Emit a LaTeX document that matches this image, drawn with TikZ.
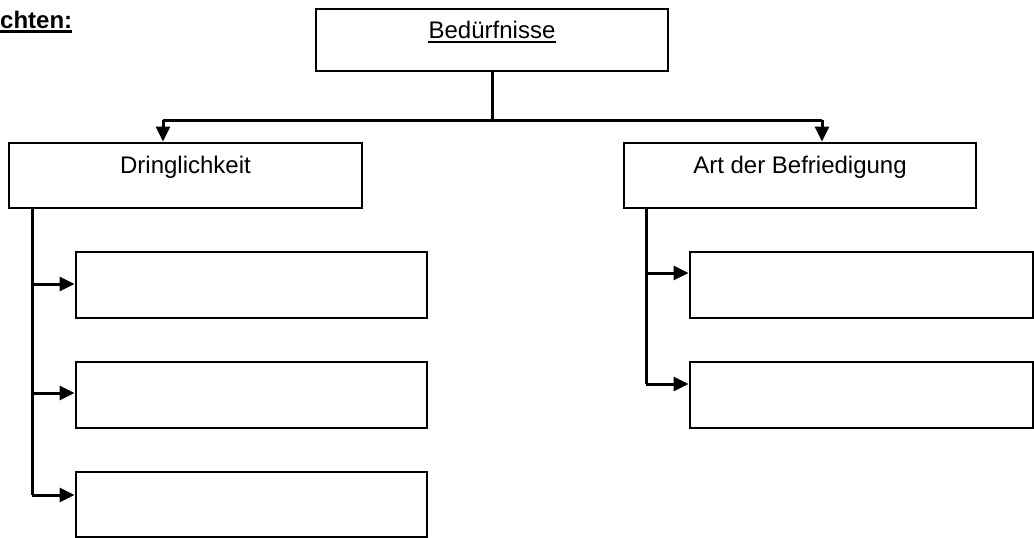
\documentclass[tikz,border=0pt]{standalone}
\usepackage{fontspec}
\setmainfont{Liberation Sans}
\usetikzlibrary{arrows.meta,calc}
\tikzset{
  box/.style={draw=black, line width=2.9pt, rectangle, inner sep=0pt},
  conn/.style={draw=black, line width=3pt},
  arr/.style={conn, -{Triangle[length=15pt,width=14pt]}},
  lbl/.style={font=\fontsize{24}{28}\selectfont, inner sep=0pt, anchor=base},
  hd/.style={font=\fontsize{24}{28}\selectfont\bfseries, inner sep=0pt, anchor=base west}
}
\begin{document}
\begin{tikzpicture}[x=1pt,y=-1pt]
\useasboundingbox (0,0) rectangle (1034,538);
% heading fragment
\node[hd] (head) at (0,28) {chten:};
\draw[line width=3.8pt] ([yshift=-3.5pt]head.base west) -- ([yshift=-3.5pt]head.base east);
% boxes
\node[box, minimum width=352pt, minimum height=62pt] (top) at (492,40) {};
\node[box, minimum width=353pt, minimum height=65pt] (dring) at (185.5,175.5) {};
\node[box, minimum width=352pt, minimum height=65pt] (art) at (800,175.5) {};
\node[box, minimum width=351pt, minimum height=66pt] (l1) at (251.5,285) {};
\node[box, minimum width=351pt, minimum height=66pt] (l2) at (251.5,395) {};
\node[box, minimum width=351pt, minimum height=65pt] (l3) at (251.5,504.5) {};
\node[box, minimum width=343pt, minimum height=66pt] (r1) at (861.5,285) {};
\node[box, minimum width=343pt, minimum height=66pt] (r2) at (861.5,395) {};
% labels
\node[lbl] (tb) at ([yshift=-31pt]top.north) {Bedürfnisse};
\draw[line width=2pt] ([yshift=-3.5pt]tb.base west) -- ([yshift=-3.5pt]tb.base east);
\node[lbl] (db) at ([yshift=-32pt]dring.north) {Dringlichkeit};
\node[lbl] (ab) at ([yshift=-32pt]art.north) {Art der Befriedigung};
% top connectors
\coordinate (hm) at (top.south |- 0,120);
\coordinate (hl) at (163,120);
\coordinate (hr) at (822,120);
\draw[conn] (top.south) -- (hm);
\draw[conn] (hl) -- (hr);
\draw[arr] (hl) -- (hl |- dring.north);
\draw[arr] (hr) -- (hr |- art.north);
% left tree
\coordinate (lt) at (32,208);
\coordinate (lb) at (32,495);
\draw[conn] (lt) -- (lb);
\draw[arr] (32,284) -- (l1.west |- 0,284);
\draw[arr] (32,393) -- (l2.west |- 0,393);
\draw[arr] (lb) -- (l3.west |- lb);
% right tree
\coordinate (rt) at (646,208);
\coordinate (rb) at (646,384);
\draw[conn] (rt) -- (rb);
\draw[arr] (646,273) -- (r1.west |- 0,273);
\draw[arr] (rb) -- (r2.west |- rb);
\end{tikzpicture}
\end{document}
